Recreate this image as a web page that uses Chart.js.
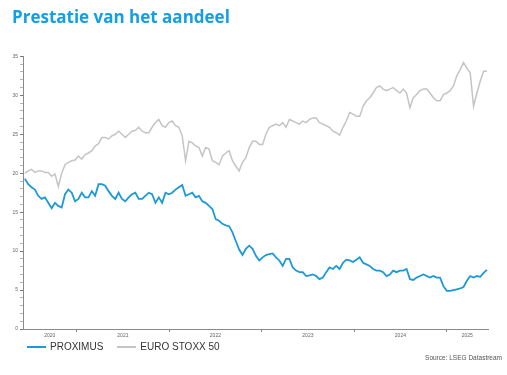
<!DOCTYPE html>
<html>
<head>
<meta charset="utf-8">
<script src="https://cdn.jsdelivr.net/npm/chart.js@4.4.1/dist/chart.umd.min.js"></script>
<style>
  html, body { margin: 0; padding: 0; background: #fff; }
  #wrap { position: relative; width: 507px; height: 375px; }
  #legend { position: absolute; left: 27px; top: 341px; display: flex;
            font: 10px "Liberation Sans", Arial, sans-serif; color: #333; line-height: 12px; }
  #legend span { display: inline-flex; align-items: center; margin-right: 14px; }
  #legend i { display: inline-block; width: 19px; height: 2px; margin-right: 4px; }
  #source { position: absolute; right: 5px; top: 354px;
            font: 6.5px "Liberation Sans", Arial, sans-serif; color: #555; }
</style>
</head>
<body>
<div id="wrap">
  <canvas id="chart" width="507" height="375"></canvas>
  <div id="legend"></div>
  <div id="source">Source: LSEG Datastream</div>
</div>
<script>
// sampled roughly every 13 days, starting early June 2020
const firstDate = 2020.44;
const stepYears = 0.0362;
const years = ['2020', '2021', '2022', '2023', '2024', '2025'];

const proximus = [
  19.3, 18.6, 18.2, 17.9, 17.1, 16.7, 16.9, 16.2, 15.5, 16.2, 15.8, 15.6, 17.3, 17.9, 17.5, 16.4, 16.7, 17.5, 16.9, 16.9,
  17.7, 17.1, 18.6, 18.6, 18.4, 17.7, 17.1, 16.7, 17.5, 16.7, 16.4, 16.9, 17.3, 17.5, 16.7, 16.7, 17.1,
  17.5, 17.3, 16.2, 16.9, 16.2, 17.5, 17.3, 17.5, 17.9, 18.2, 18.5, 17.1, 17.3, 17.5, 16.9, 17.1, 16.4, 16.2, 15.8, 15.4,
  14.1, 13.9, 13.5, 13.3, 13.2, 12.4, 11.3, 10.2, 9.5, 10.3, 10.7, 10.3, 9.4, 8.8, 9.2, 9.5,
  9.6, 9.7, 9.2, 8.8, 8.1, 9.0, 9.0, 7.9, 7.5, 7.3, 7.3, 6.8, 6.9, 7.0, 6.8, 6.4, 6.6, 7.3, 7.9, 7.7,
  8.1, 7.7, 8.5, 8.9, 8.8, 8.6, 8.9, 9.2, 8.5, 8.3, 8.1, 7.7, 7.5, 7.5, 7.3, 6.8,
  7.0, 7.5, 7.3, 7.5, 7.5, 7.7, 6.4, 6.3, 6.6, 6.8, 7.0, 6.8, 6.6, 6.8, 6.6, 6.6, 5.5, 4.9, 4.9, 5.0,
  5.1, 5.2, 5.4, 6.2, 6.8, 6.6, 6.8, 6.7, 7.2, 7.6
];

const stoxx = [
  20.0, 20.3, 20.5, 20.1, 20.3, 20.3, 20.1, 20.1, 19.6, 19.9, 18.3, 20.0, 21.1, 21.4, 21.6, 21.7, 22.2, 21.8, 22.4, 22.6,
  22.9, 23.5, 23.8, 24.6, 24.6, 24.4, 24.8, 25.0, 25.4, 25.0, 24.6, 25.0, 25.4, 25.5, 25.9, 25.4, 25.2,
  25.2, 25.9, 26.5, 26.9, 26.1, 25.9, 26.5, 26.7, 26.1, 25.9, 24.8, 21.6, 24.1, 23.9, 23.5, 23.3, 22.2, 23.3, 23.1, 21.6,
  21.4, 21.1, 22.2, 22.6, 22.9, 21.6, 20.9, 20.3, 21.4, 22.0, 23.3, 24.1, 24.1, 23.7, 23.7, 25.0,
  25.9, 26.1, 26.3, 26.1, 26.5, 25.9, 26.9, 26.7, 26.5, 26.3, 26.7, 26.5, 26.9, 27.1, 27.1, 26.5, 26.3, 26.1, 25.9, 25.4,
  25.2, 24.9, 25.9, 26.7, 27.8, 27.6, 27.3, 27.3, 28.6, 29.3, 29.7, 30.3, 31.0, 31.2, 30.8, 30.6,
  30.8, 31.0, 30.6, 30.3, 30.8, 30.3, 28.4, 29.7, 30.1, 30.6, 30.8, 30.8, 30.3, 29.7, 29.3, 29.3, 30.1, 30.3, 30.6, 31.2,
  32.5, 33.3, 34.2, 33.5, 32.9, 28.6, 30.3, 31.8, 33.1, 33.1
];

const xMin = 2020.42;
const xMax = 2025.447;

const toPoints = vals => vals.map((v, i) => ({ x: firstDate + i * stepYears, y: v }));

const datasets = [
  { label: 'PROXIMUS', data: toPoints(proximus), borderColor: '#1b9ad6', borderWidth: 1.8 },
  { label: 'EURO STOXX 50', data: toPoints(stoxx), borderColor: '#c4c4c4', borderWidth: 1.5 }
];

const axisFont = { family: '"Liberation Sans", Arial, sans-serif', size: 5 };

const chart = new Chart(document.getElementById('chart'), {
  type: 'line',
  data: { datasets },
  options: {
    responsive: false,
    animation: false,
    layout: { padding: { left: 12, right: 19, top: 0, bottom: 34 } },
    elements: { point: { radius: 0 }, line: { tension: 0 } },
    plugins: {
      legend: { display: false },
      tooltip: { enabled: false },
      title: {
        display: true,
        text: 'Prestatie van het aandeel',
        align: 'start',
        color: '#139fe3',
        font: { family: '"Open Sans", sans-serif', size: 17, weight: 'bold', lineHeight: 1.2 },
        padding: { top: 8, bottom: 28 }
      }
    },
    scales: {
      x: {
        type: 'linear',
        min: xMin,
        max: xMax,
        afterFit: s => { s.height = 12; },
        afterBuildTicks: s => {
          const ticks = [];
          years.forEach((y, i) => {
            const yr = Number(y);
            const a = Math.max(yr, xMin), b = Math.min(yr + 1, xMax);
            if (i > 0) ticks.push({ value: yr });
            ticks.push({ value: (a + b) / 2 });
          });
          s.ticks = ticks;
        },
        grid: {
          drawOnChartArea: false,
          tickLength: 3,
          tickColor: ctx => Number.isInteger(ctx.tick && ctx.tick.value) ? '#8a8a8a' : 'rgba(0,0,0,0)'
        },
        border: { color: '#8a8a8a' },
        ticks: {
          autoSkip: false,
          maxRotation: 0,
          padding: 1,
          color: '#666',
          font: axisFont,
          callback: v => Number.isInteger(v) ? '' : years[Math.floor(v) - Number(years[0])]
        }
      },
      y: {
        min: 0,
        max: 35,
        afterFit: s => { s.width = 11; },
        grid: {
          drawOnChartArea: false,
          tickLength: 3,
          tickColor: ctx => ctx.tick && ctx.tick.value % 5 === 0 ? '#777' : '#b5b5b5'
        },
        border: { color: '#8a8a8a' },
        ticks: {
          stepSize: 1,
          autoSkip: false,
          padding: 2,
          color: '#666',
          font: axisFont,
          callback: v => v % 5 === 0 ? v : ''
        }
      }
    }
  }
});

// html legend built from the datasets
const legend = document.getElementById('legend');
chart.data.datasets.forEach(ds => {
  const item = document.createElement('span');
  const swatch = document.createElement('i');
  swatch.style.background = ds.borderColor;
  item.appendChild(swatch);
  item.appendChild(document.createTextNode(ds.label));
  legend.appendChild(item);
});
</script>
</body>
</html>
